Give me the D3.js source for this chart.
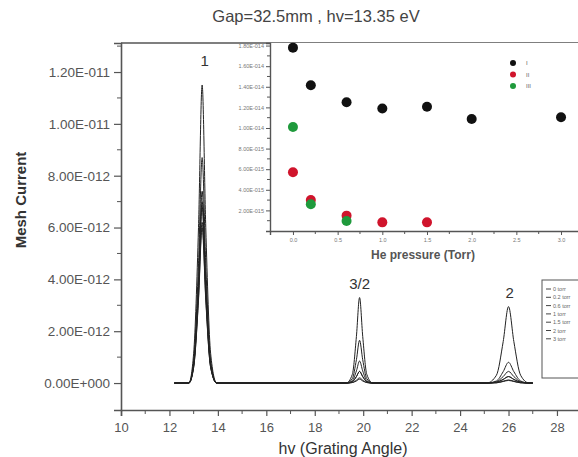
<!DOCTYPE html>
<html>
<head>
<meta charset="utf-8">
<script src="https://cdn.jsdelivr.net/npm/d3@7"></script>
<style>
  body { margin: 0; background: #fff; }
  text { font-family: "Liberation Sans", Arial, sans-serif; }
</style>
</head>
<body>
<div id="chart"></div>
<script>
// main spectrum: hv grid shared by all curves, currents in units of 1e-12 A
const hv = [12.2, 12.8, 13.0, 13.2, 13.35, 13.5, 13.7, 13.95, 19.3, 19.55, 19.72, 19.85, 19.98, 20.15, 20.4, 25.1, 25.5, 25.78, 26.0, 26.22, 26.5, 26.85, 27.0];
const pressures = ["0 torr", "0.2 torr", "0.6 torr", "1 torr", "1.5 torr", "2 torr", "3 torr"];
const curve0 = [0, 0, 1.15, 6.0, 11.5, 6.0, 1.15, 0, 0, 0.33, 1.8, 3.3, 1.8, 0.33, 0, 0, 0.3, 1.6, 2.95, 1.6, 0.3, 0, 0];
const curve1 = [0, 0, 0.87, 4.6, 8.7, 4.6, 0.87, 0, 0, 0.17, 0.9, 1.65, 0.9, 0.17, 0, 0, 0.08, 0.44, 0.8, 0.44, 0.08, 0, 0];
const curve2 = [0, 0, 0.74, 3.9, 7.4, 3.9, 0.74, 0, 0, 0.09, 0.47, 0.85, 0.47, 0.09, 0, 0, 0.05, 0.25, 0.45, 0.25, 0.05, 0, 0];
const curve3 = [0, 0, 0.68, 3.6, 6.8, 3.6, 0.68, 0, 0, 0.05, 0.25, 0.45, 0.25, 0.05, 0, 0, 0.03, 0.14, 0.25, 0.14, 0.03, 0, 0];
const curve4 = [0, 0, 0.7, 3.7, 7.0, 3.7, 0.7, 0, 0, 0.05, 0.25, 0.45, 0.25, 0.05, 0, 0, 0.03, 0.14, 0.25, 0.14, 0.03, 0, 0];
const curve5 = [0, 0, 0.6, 3.2, 6.0, 3.2, 0.6, 0, 0, 0.02, 0.11, 0.2, 0.11, 0.02, 0, 0, 0.01, 0.07, 0.12, 0.07, 0.01, 0, 0];
const curve6 = [0, 0, 0.62, 3.3, 6.2, 3.3, 0.62, 0, 0, 0.02, 0.08, 0.15, 0.08, 0.02, 0, 0, 0.01, 0.06, 0.1, 0.06, 0.01, 0, 0];
const curves = [curve0, curve1, curve2, curve3, curve4, curve5, curve6];
const xTicks = [10, 12, 14, 16, 18, 20, 22, 24, 26, 28];
const yTicks = [0, 2, 4, 6, 8, 10, 12];
const yTickLabels = ["0.00E+000", "2.00E-012", "4.00E-012", "6.00E-012", "8.00E-012", "1.00E-011", "1.20E-011"];

// inset: peak heights vs He pressure, units of 1e-15
const insetSeries = ["I", "II", "III"];
const insetColors = ["#111111", "#d0142c", "#1f9a3c"];
const pressI = [0.0, 0.2, 0.6, 1.0, 1.5, 2.0, 3.0];
const valI = [17.8, 14.15, 12.5, 11.9, 12.07, 10.87, 11.04];
const pressII = [0.0, 0.2, 0.6, 1.0, 1.5];
const valII = [5.7, 3.0, 1.49, 0.84, 0.84];
const pressIII = [0.0, 0.2, 0.6];
const valIII = [10.1, 2.6, 0.97];
const insetXTicks = [0, 0.5, 1.0, 1.5, 2.0, 2.5, 3.0];
const insetYTicks = [2, 4, 6, 8, 10, 12, 14, 16, 18];
const insetYTickLabels = ["2.00E-015", "4.00E-015", "6.00E-015", "8.00E-015", "1.00E-014", "1.20E-014", "1.40E-014", "1.60E-014", "1.80E-014"];

const width = 578, height = 457;
const svg = d3.select("#chart").append("svg")
  .attr("width", width).attr("height", height);

/* main scales */
const x = d3.scaleLinear().domain([10, 30]).range([121, 605.4]);
const y = d3.scaleLinear().domain([-1.04, 13.12]).range([410, 43]);
const frame = "#555";

/* title */
svg.append("text").attr("x", 316).attr("y", 22).attr("text-anchor", "middle")
  .attr("font-size", 16.5).attr("fill", "#444").text("Gap=32.5mm , hv=13.35 eV");

/* curves */
const line = d3.line().x((d, i) => x(hv[i])).y(d => y(d)).curve(d3.curveMonotoneX);
svg.append("g").selectAll("path").data(curves).enter().append("path")
  .attr("d", d => line(d))
  .attr("fill", "none").attr("stroke", "#222").attr("stroke-width", 1);

/* axes */
const xAxis = d3.axisBottom(x).tickValues(xTicks).tickSize(6).tickPadding(7).tickFormat(d3.format("d"));
const gx = svg.append("g").attr("transform", "translate(0,410)").call(xAxis);
gx.append("g").selectAll("line").data(d3.range(11, 30, 2)).enter().append("line")
  .attr("x1", d => x(d)).attr("x2", d => x(d)).attr("y1", 0).attr("y2", 4).attr("stroke", frame);
const yAxis = d3.axisLeft(y).tickValues(yTicks).tickSize(7).tickPadding(4)
  .tickFormat((d, i) => yTickLabels[i]);
const gy = svg.append("g").attr("transform", "translate(121,0)").call(yAxis);
gy.append("g").selectAll("line").data(d3.range(1, 14, 2)).enter().append("line")
  .attr("x1", 0).attr("x2", -4).attr("y1", d => y(d)).attr("y2", d => y(d)).attr("stroke", frame);
[gx, gy].forEach(g => {
  g.select(".domain").attr("stroke", frame).attr("stroke-width", 1.6);
  g.selectAll(".tick line").attr("stroke", frame).attr("stroke-width", 1.2);
  g.selectAll(".tick text").attr("fill", "#555").attr("font-family", "Liberation Sans, Arial, sans-serif");
});
gx.selectAll(".tick text").attr("font-size", 13);
gy.selectAll(".tick text").attr("font-size", 13.5);
// top frame line
svg.append("line").attr("x1", 121).attr("x2", width).attr("y1", y(13.12)).attr("y2", y(13.12))
  .attr("stroke", frame).attr("stroke-width", 1.6);

/* axis titles */
svg.append("text").attr("x", 343).attr("y", 454).attr("text-anchor", "middle")
  .attr("font-size", 16).attr("fill", "#333").text("hv (Grating Angle)");
svg.append("text").attr("transform", "translate(26,200) rotate(-90)").attr("text-anchor", "middle")
  .attr("font-size", 15).attr("font-weight", "bold").attr("fill", "#333").text("Mesh Current");

/* peak labels */
svg.append("text").attr("x", x(13.45)).attr("y", 66).attr("text-anchor", "middle")
  .attr("font-size", 15).attr("fill", "#333").text("1");
svg.append("text").attr("x", x(19.85)).attr("y", 289).attr("text-anchor", "middle")
  .attr("font-size", 15).attr("fill", "#333").text("3/2");
svg.append("text").attr("x", x(26.05)).attr("y", 298).attr("text-anchor", "middle")
  .attr("font-size", 15).attr("fill", "#333").text("2");

/* legend box */
const lg = svg.append("g").attr("transform", "translate(542,280)");
lg.append("rect").attr("width", 60).attr("height", 98).attr("fill", "#fff").attr("stroke", frame).attr("stroke-width", 1);
pressures.forEach((p, i) => {
  lg.append("line").attr("x1", 4).attr("x2", 9).attr("y1", 9 + i * 8.3).attr("y2", 9 + i * 8.3)
    .attr("stroke", "#444").attr("stroke-width", 1);
  lg.append("text").attr("x", 11).attr("y", 11 + i * 8.3).attr("font-size", 5.5).attr("fill", "#666").text(p);
});

/* inset */
const ix = d3.scaleLinear().domain([-0.257, 3.66]).range([270, 620]);
const iy = d3.scaleLinear().domain([0, 18.25]).range([231, 43]);
const inset = svg.append("g");
inset.append("rect").attr("x", 270).attr("y", 43).attr("width", 320).attr("height", 188).attr("fill", "#fff");
const ixAxis = d3.axisBottom(ix).tickValues(insetXTicks).tickSize(4).tickPadding(3).tickFormat(d3.format(".1f"));
const gix = inset.append("g").attr("transform", "translate(0,231)").call(ixAxis);
gix.append("g").selectAll("line").data(d3.range(0.25, 3.5, 0.5)).enter().append("line")
  .attr("x1", d => ix(d)).attr("x2", d => ix(d)).attr("y1", 0).attr("y2", 3).attr("stroke", frame);
const iyAxis = d3.axisLeft(iy).tickValues(insetYTicks).tickSize(4).tickPadding(2)
  .tickFormat((d, i) => insetYTickLabels[i]);
const giy = inset.append("g").attr("transform", "translate(270,0)").call(iyAxis);
giy.append("g").selectAll("line").data(d3.range(1, 18, 2)).enter().append("line")
  .attr("x1", 0).attr("x2", -3).attr("y1", d => iy(d)).attr("y2", d => iy(d)).attr("stroke", frame);
[gix, giy].forEach(g => {
  g.select(".domain").attr("stroke", frame).attr("stroke-width", 1.4);
  g.selectAll(".tick line").attr("stroke", frame);
  g.selectAll(".tick text").attr("font-size", 5.5).attr("fill", "#777")
    .attr("font-family", "Liberation Sans, Arial, sans-serif");
});
inset.append("text").attr("x", 423).attr("y", 259).attr("text-anchor", "middle")
  .attr("font-size", 12).attr("font-weight", "bold").attr("fill", "#555").text("He pressure (Torr)");

const insetData = [
  pressI.map((p, i) => ({p, v: valI[i]})),
  pressII.map((p, i) => ({p, v: valII[i]})),
  pressIII.map((p, i) => ({p, v: valIII[i]}))
];
// draw III last so green sits over red where they overlap
[0, 1, 2].forEach(s => {
  inset.append("g").selectAll("circle").data(insetData[s]).enter().append("circle")
    .attr("cx", d => ix(d.p)).attr("cy", d => iy(d.v)).attr("r", 5)
    .attr("fill", insetColors[s]);
});
insetSeries.forEach((name, i) => {
  inset.append("circle").attr("cx", 513).attr("cy", 63 + i * 11.5).attr("r", 3).attr("fill", insetColors[i]);
  inset.append("text").attr("x", 526).attr("y", 65 + i * 11.5).attr("font-size", 6).attr("fill", "#666").text(name);
});
</script>
</body>
</html>
